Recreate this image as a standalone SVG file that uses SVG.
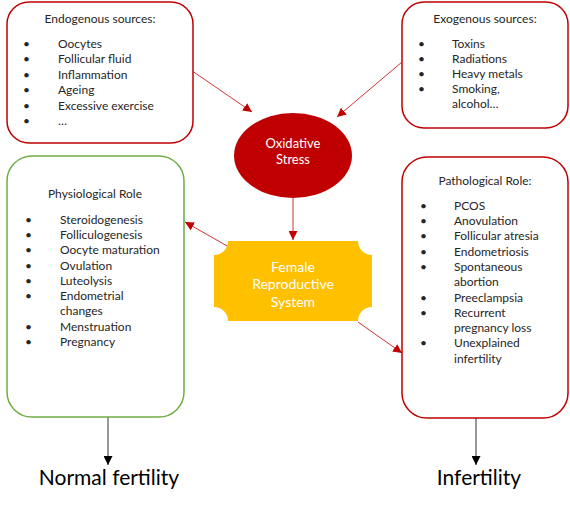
<svg xmlns="http://www.w3.org/2000/svg" width="570" height="510" viewBox="0 0 570 510">
<style>
  .box { fill: #fff; stroke-width: 1.5; }
  .red { stroke: #C00000; }
  .green { stroke: #70AD47; }
  text { font-family: Lato, "Open Sans", "Liberation Sans", sans-serif; }
  .t { font-size: 12px; fill: #262626; }
  .ttl { text-anchor: middle; }
  .w { fill: #fff; font-size: 13px; text-anchor: middle; }
  .big { font-size: 21px; fill: #000; text-anchor: middle; }
  .rc { stroke: #C00000; stroke-width: 0.8; fill: none; }
  .bc { stroke: #000; stroke-width: 0.8; fill: none; }
</style>
<defs>
  <marker id="ar" viewBox="0 0 10 10" refX="10" refY="5" markerWidth="9" markerHeight="9" markerUnits="userSpaceOnUse" orient="auto">
    <path d="M0,0 L10,5 L0,10 Z" fill="#C00000"/>
  </marker>
  <marker id="ab" viewBox="0 0 10 10" refX="10" refY="5" markerWidth="9" markerHeight="9" markerUnits="userSpaceOnUse" orient="auto">
    <path d="M0,0 L10,5 L0,10 Z" fill="#000"/>
  </marker>
</defs>

<g id="connectors">
  <line class="rc" x1="185" y1="66" x2="252" y2="112" marker-end="url(#ar)"/>
  <line class="rc" x1="402" y1="62" x2="337" y2="117" marker-end="url(#ar)"/>
  <line class="rc" x1="293" y1="198" x2="293" y2="240" marker-end="url(#ar)"/>
  <line class="rc" x1="229" y1="247" x2="185" y2="222" marker-end="url(#ar)"/>
  <line class="rc" x1="358" y1="322" x2="402" y2="353" marker-end="url(#ar)"/>
  <line class="bc" x1="108" y1="417" x2="108" y2="465" marker-end="url(#ab)"/>
  <line class="bc" x1="476" y1="418" x2="476" y2="465" marker-end="url(#ab)"/>
</g>

<g id="endogenous">
  <rect class="box red" x="7" y="2" width="186" height="141" rx="22"/>
  <text class="t ttl" x="100" y="23">Endogenous sources:</text>
  <g class="t">
    <text x="23" y="48">•</text><text x="58" y="48">Oocytes</text>
    <text x="23" y="63">•</text><text x="58" y="63">Follicular fluid</text>
    <text x="23" y="79">•</text><text x="58" y="79">Inflammation</text>
    <text x="23" y="94">•</text><text x="58" y="94">Ageing</text>
    <text x="23" y="110">•</text><text x="58" y="110">Excessive exercise</text>
    <text x="23" y="125">•</text><text x="58" y="125">…</text>
  </g>
</g>

<g id="exogenous">
  <rect class="box red" x="402" y="2" width="166" height="126" rx="22"/>
  <text class="t ttl" x="485" y="23">Exogenous sources:</text>
  <g class="t">
    <text x="418" y="48">•</text><text x="452" y="48">Toxins</text>
    <text x="418" y="63">•</text><text x="452" y="63">Radiations</text>
    <text x="418" y="78">•</text><text x="452" y="78">Heavy metals</text>
    <text x="418" y="93">•</text><text x="452" y="93">Smoking,</text>
    <text x="452" y="108">alcohol…</text>
  </g>
</g>

<g id="oxidative">
  <ellipse cx="293" cy="155.5" rx="59" ry="42.5" fill="#C00000"/>
  <text class="w" x="293" y="148">Oxidative</text>
  <text class="w" x="293" y="164">Stress</text>
</g>

<g id="female">
  <path d="M228,241 H358 A14,14 0 0 0 372,255 V307 A14,14 0 0 0 358,321 H228 A14,14 0 0 0 214,307 V255 A14,14 0 0 0 228,241 Z" fill="#FFC000"/>
  <text class="w" x="293" y="272" style="font-size:14px">Female</text>
  <text class="w" x="293" y="289" style="font-size:14px">Reproductive</text>
  <text class="w" x="293" y="307" style="font-size:14px">System</text>
</g>

<g id="physiological">
  <rect class="box green" x="7" y="156" width="177" height="261" rx="25"/>
  <text class="t ttl" x="95" y="198">Physiological Role</text>
  <g class="t">
    <text x="25" y="224">•</text><text x="60" y="224">Steroidogenesis</text>
    <text x="25" y="239">•</text><text x="60" y="239">Folliculogenesis</text>
    <text x="25" y="254">•</text><text x="60" y="254">Oocyte maturation</text>
    <text x="25" y="270">•</text><text x="60" y="270">Ovulation</text>
    <text x="25" y="285">•</text><text x="60" y="285">Luteolysis</text>
    <text x="25" y="300">•</text><text x="60" y="300">Endometrial</text>
    <text x="60" y="315">changes</text>
    <text x="25" y="331">•</text><text x="60" y="331">Menstruation</text>
    <text x="25" y="346">•</text><text x="60" y="346">Pregnancy</text>
  </g>
</g>

<g id="pathological">
  <rect class="box red" x="402" y="157" width="166" height="261" rx="25"/>
  <text class="t ttl" x="485" y="185">Pathological Role:</text>
  <g class="t">
    <text x="420" y="210">•</text><text x="454" y="210">PCOS</text>
    <text x="420" y="225">•</text><text x="454" y="225">Anovulation</text>
    <text x="420" y="240">•</text><text x="454" y="240">Follicular atresia</text>
    <text x="420" y="256">•</text><text x="454" y="256">Endometriosis</text>
    <text x="420" y="271">•</text><text x="454" y="271">Spontaneous</text>
    <text x="454" y="286">abortion</text>
    <text x="420" y="302">•</text><text x="454" y="302">Preeclampsia</text>
    <text x="420" y="317">•</text><text x="454" y="317">Recurrent</text>
    <text x="454" y="332">pregnancy loss</text>
    <text x="420" y="347">•</text><text x="454" y="347">Unexplained</text>
    <text x="454" y="363">infertility</text>
  </g>
</g>

<g id="normal">
  <text class="big" x="109" y="485">Normal fertility</text>
</g>
<g id="infertility">
  <text class="big" x="479" y="485">Infertility</text>
</g>
</svg>
